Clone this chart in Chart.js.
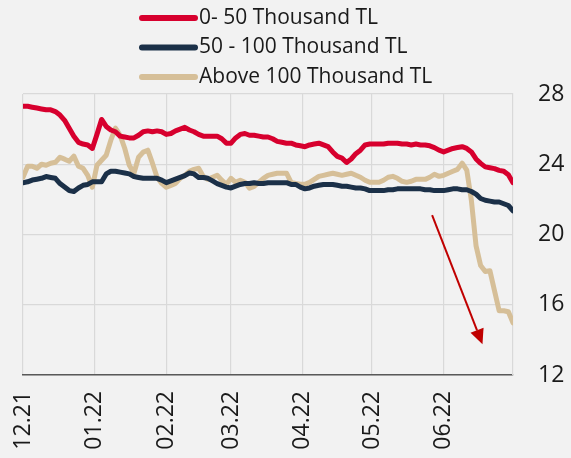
<!DOCTYPE html>
<html>
<head>
<meta charset="utf-8">
<script src="https://cdn.jsdelivr.net/npm/chart.js@4"></script>
<style>
  html, body { margin: 0; padding: 0; background: #f2f2f2; }
  #wrap { width: 571px; height: 458px; }
</style>
</head>
<body>
<div id="wrap"><canvas id="line-chart" width="571" height="458"></canvas></div>
<script>
// days since 1 Dec 2021, every second day
var days = [];
for (var d = 0; d <= 212; d += 2) days.push(d);

var monthDays = [0, 31, 62, 90, 121, 151, 182];
var monthLabels = ["12.21", "01.22", "02.22", "03.22", "04.22", "05.22", "06.22"];
var yTicks = [12, 16, 20, 24, 28];

var seriesNames = ["0- 50 Thousand TL", "50 - 100 Thousand TL", "Above 100 Thousand TL"];
var seriesColors = ["#d7002e", "#1b3048", "#d6bf98"];

var low = [
  27.3, 27.3, 27.25, 27.2, 27.15, 27.1, 27.1, 27.0, 26.8, 26.5,
  26.05, 25.6, 25.25, 25.15, 25.1, 24.9, 25.7, 26.55, 26.15, 25.95,
  25.85, 25.6, 25.55, 25.5, 25.5, 25.65, 25.85, 25.9, 25.85, 25.9,
  25.85, 25.7, 25.75, 25.9, 26.0, 26.1, 25.95, 25.85, 25.7, 25.6,
  25.6, 25.6, 25.6, 25.45, 25.2, 25.2, 25.5, 25.7, 25.75, 25.65,
  25.65, 25.6, 25.55, 25.55, 25.45, 25.3, 25.25, 25.2, 25.2, 25.1,
  25.05, 25.0, 25.1, 25.15, 25.2, 25.1, 25.0, 24.7, 24.45, 24.35,
  24.1, 24.3, 24.6, 24.8, 25.1, 25.15, 25.15, 25.15, 25.15, 25.2,
  25.2, 25.2, 25.15, 25.15, 25.1, 25.15, 25.1, 25.1, 25.05, 24.95,
  24.8, 24.7, 24.8, 24.9, 24.95, 25.0, 24.9, 24.7, 24.3, 24.05,
  23.85, 23.8, 23.75, 23.65, 23.6, 23.4, 22.95
];

var mid = [
  22.95, 23.0, 23.1, 23.15, 23.2, 23.3, 23.25, 23.2, 22.9, 22.7,
  22.5, 22.45, 22.65, 22.8, 22.85, 23.0, 23.0, 23.0, 23.45, 23.6,
  23.6, 23.55, 23.5, 23.45, 23.3, 23.25, 23.2, 23.2, 23.2, 23.2,
  23.1, 22.95, 23.05, 23.15, 23.25, 23.35, 23.5, 23.45, 23.25, 23.25,
  23.2, 23.05, 22.9, 22.8, 22.7, 22.65, 22.75, 22.85, 22.9, 22.9,
  22.95, 22.9, 22.9, 22.95, 22.95, 22.95, 22.95, 22.95, 22.85, 22.85,
  22.7, 22.6, 22.65, 22.75, 22.8, 22.85, 22.85, 22.85, 22.8, 22.75,
  22.75, 22.7, 22.65, 22.65, 22.6, 22.5, 22.5, 22.5, 22.5, 22.55,
  22.55, 22.6, 22.6, 22.6, 22.6, 22.6, 22.6, 22.55, 22.55, 22.5,
  22.5, 22.5, 22.55, 22.6, 22.6, 22.55, 22.55, 22.45, 22.3, 22.05,
  21.95, 21.9, 21.85, 21.85, 21.75, 21.65, 21.35
];

var high = [
  23.26, 23.89, 23.89, 23.77, 24.0, 23.94, 24.06, 24.11, 24.4, 24.29,
  24.17, 24.46, 23.89, 23.77, 23.37, 22.69, 23.94, 24.23, 24.51, 25.37,
  26.06, 25.66, 24.91, 23.94, 23.49, 24.4, 24.69, 24.8, 24.06, 23.26,
  22.91, 22.69, 22.8, 22.91, 23.2, 23.37, 23.6, 23.71, 23.77, 23.31,
  23.14, 23.26, 23.37, 23.09, 22.86, 23.2, 22.97, 23.09, 22.97, 22.63,
  22.74, 22.97, 23.2, 23.37, 23.43, 23.49, 23.49, 23.49, 22.97, 22.91,
  22.86, 22.86, 22.97, 23.14, 23.31, 23.37, 23.43, 23.49, 23.43, 23.37,
  23.43, 23.49, 23.37, 23.26, 23.09, 22.97, 22.97, 22.97, 23.09, 23.26,
  23.31, 23.2, 23.03, 22.97, 23.03, 23.14, 23.14, 23.14, 23.26, 23.43,
  23.31, 23.37, 23.49, 23.6, 23.71, 24.06, 23.66, 21.94, 19.37, 18.23,
  17.89, 17.94, 16.8, 15.66, 15.66, 15.6, 14.97
];

// arrow drawn in data units: [day, value]
var arrowFrom = [177, 21.1];
var arrowTo = [198.8, 13.75];

function toPoints(vals) {
  return vals.map(function (v, i) { return { x: days[i], y: v }; });
}

var legendPlugin = {
  id: "stackedLegend",
  afterDraw: function (chart) {
    var ctx = chart.ctx;
    ctx.save();
    ctx.font = "21px 'Open Sans'";
    ctx.textBaseline = "middle";
    ctx.fillStyle = "#1a1a1a";
    chart.data.datasets.forEach(function (ds, i) {
      var y = 18 + i * 29.5;
      ctx.strokeStyle = ds.borderColor;
      ctx.lineWidth = 6;
      ctx.lineCap = "round";
      ctx.beginPath();
      ctx.moveTo(142, y);
      ctx.lineTo(195, y);
      ctx.stroke();
      ctx.fillText(ds.label, 199, y);
    });
    ctx.restore();
  }
};

var arrowPlugin = {
  id: "arrow",
  afterDatasetsDraw: function (chart) {
    var xs = chart.scales.x, ys = chart.scales.y, ctx = chart.ctx;
    var x1 = xs.getPixelForValue(arrowFrom[0]), y1 = ys.getPixelForValue(arrowFrom[1]);
    var x2 = xs.getPixelForValue(arrowTo[0]), y2 = ys.getPixelForValue(arrowTo[1]);
    var ang = Math.atan2(y2 - y1, x2 - x1);
    var len = 15, half = 7;
    var bx = x2 - len * Math.cos(ang), by = y2 - len * Math.sin(ang);
    ctx.save();
    ctx.strokeStyle = "#c00000";
    ctx.fillStyle = "#c00000";
    ctx.lineWidth = 2;
    ctx.beginPath();
    ctx.moveTo(x1, y1);
    ctx.lineTo(bx, by);
    ctx.stroke();
    ctx.beginPath();
    ctx.moveTo(x2, y2);
    ctx.lineTo(bx + half * Math.sin(ang), by - half * Math.cos(ang));
    ctx.lineTo(bx - half * Math.sin(ang), by + half * Math.cos(ang));
    ctx.closePath();
    ctx.fill();
    ctx.restore();
  }
};

new Chart(document.getElementById("line-chart"), {
  type: "line",
  data: {
    datasets: [
      { label: seriesNames[0], data: toPoints(low), borderColor: seriesColors[0] },
      { label: seriesNames[1], data: toPoints(mid), borderColor: seriesColors[1] },
      { label: seriesNames[2], data: toPoints(high), borderColor: seriesColors[2] }
    ]
  },
  options: {
    responsive: false,
    animation: false,
    layout: { padding: { top: 94, right: 0, bottom: 0, left: 23 } },
    elements: {
      line: { borderWidth: 5, tension: 0, borderJoinStyle: "round", borderCapStyle: "round" },
      point: { radius: 0 }
    },
    plugins: {
      legend: { display: false },
      tooltip: { enabled: false }
    },
    scales: {
      x: {
        type: "linear",
        min: 0,
        max: 212,
        afterBuildTicks: function (axis) {
          axis.ticks = monthDays.map(function (v) { return { value: v }; });
        },
        afterFit: function (axis) { axis.height = 83; },
        ticks: {
          autoSkip: false,
          minRotation: 90,
          maxRotation: 90,
          padding: 16,
          color: "#1a1a1a",
          font: { family: "Open Sans", size: 23 },
          callback: function (v) {
            var i = monthDays.indexOf(v);
            return i >= 0 ? monthLabels[i] : "";
          }
        },
        grid: { color: "#d9d9d9", lineWidth: 1.2, drawTicks: false },
        border: { color: "#595959", width: 1.5 }
      },
      y: {
        position: "right",
        min: 12,
        max: 28,
        afterBuildTicks: function (axis) {
          axis.ticks = yTicks.map(function (v) { return { value: v }; });
        },
        afterFit: function (axis) { axis.width = 58; },
        ticks: {
          padding: 25,
          color: "#1a1a1a",
          font: { family: "Open Sans", size: 23 }
        },
        grid: { color: "#d9d9d9", lineWidth: 1.2, drawTicks: false },
        border: { color: "#d9d9d9", width: 1.2 }
      }
    }
  },
  plugins: [legendPlugin, arrowPlugin]
});
</script>
</body>
</html>
